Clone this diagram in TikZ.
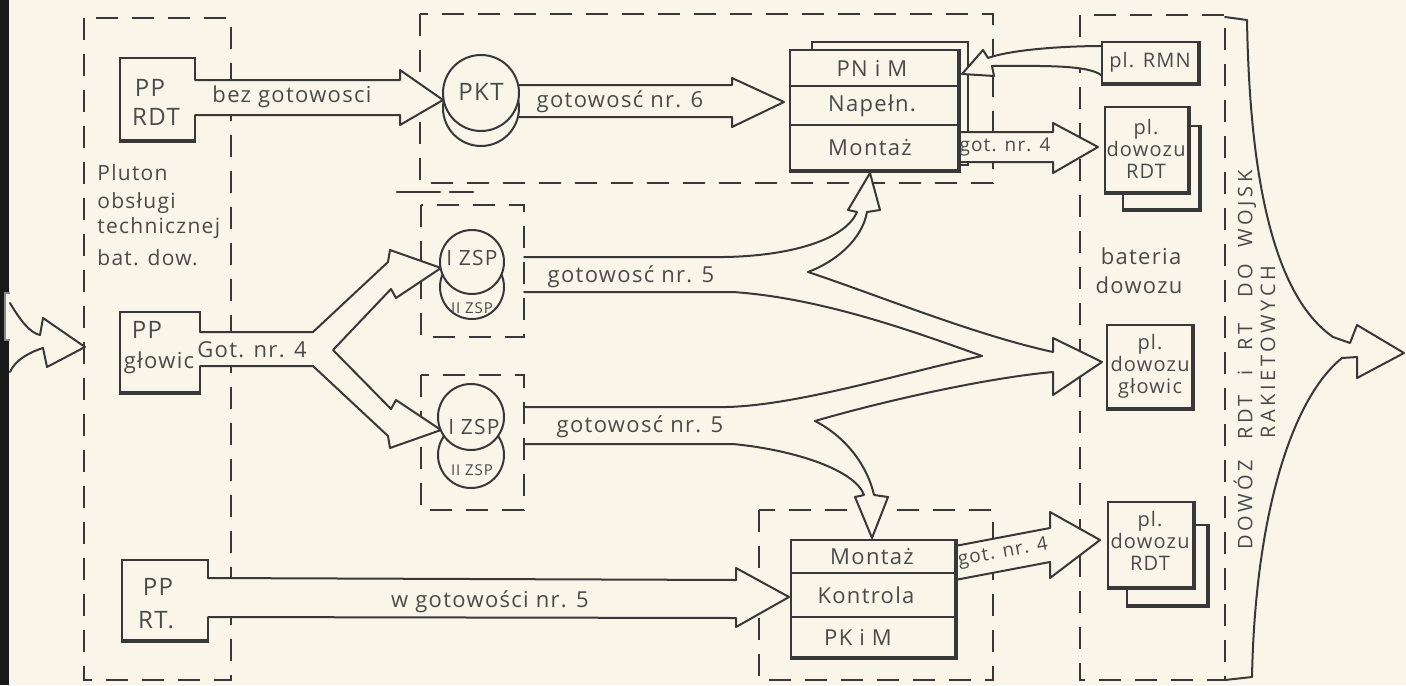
\documentclass[tikz,border=0pt]{standalone}
\usepackage{fontspec}
\newfontfamily\hand[LetterSpace=6]{Open Sans}
\newfontfamily\handcaps[LetterSpace=18]{Open Sans}
\definecolor{bgc}{HTML}{F9F6E9}
\definecolor{inkc}{HTML}{383838}
\definecolor{txtc}{HTML}{4A4A4A}
\tikzset{
  dbox/.style={draw=inkc, line width=1.1pt, dash pattern=on 11pt off 7pt},
  ln/.style={draw=inkc, line width=1pt, line join=round, line cap=round},
  thk/.style={draw=inkc, line width=1.8pt},
  lbl/.style={text=txtc, inner sep=0pt, font=\hand\fontsize{11}{13}\selectfont},
  boxtxt/.style={text=txtc, inner sep=0pt, align=center, font=\hand\fontsize{10}{11}\selectfont},
  bigtxt/.style={text=txtc, inner sep=0pt, font=\hand\fontsize{12}{14}\selectfont},
  ppbox/.style={draw=inkc, line width=1pt, fill=bgc, inner sep=0pt},
  ring/.style={circle, draw=inkc, line width=1pt, fill=bgc, inner sep=0pt},
  vtxt/.style={text=txtc, inner sep=0pt, rotate=90, font=\handcaps\fontsize{10}{12}\selectfont},
}
\begin{document}
\begin{tikzpicture}[x=0.5pt,y=-0.5pt]
\useasboundingbox (0,0) rectangle (1406,685);
\fill[bgc] (0,0) rectangle (1406,685);
\fill[black!90] (0,0) rectangle (9,685);
\fill[bgc] (5,293) rectangle (10,340);
\draw[inkc!60, line width=0.8pt] (10,293) -- (5,293) -- (5,340) -- (10,340);

% frames
\draw[dbox] (84,18) rectangle (231,680);
\draw[dbox] (420,14) rectangle (993,183);
\draw[dbox] (421,205) rectangle (524,337);
\draw[dbox] (421,375) rectangle (524,510);
\draw[dbox] (759,510) rectangle (993,680);
\draw[dbox] (1080,15) rectangle (1225,680);
\draw[ln, line width=1.1pt] (397,192) -- (440,192) (450,192) -- (473,192);

% left incoming arrow
\fill[bgc] (10,303) .. controls (20,320) and (30,333) .. (40,335) -- (43,318) -- (85,347) -- (47,367) -- (43,348) .. controls (30,352) and (15,360) .. (10,372) -- cycle;
\draw[ln] (10,303) .. controls (20,320) and (30,333) .. (40,335) -- (43,318) -- (85,347) -- (47,367) -- (43,348) .. controls (30,352) and (15,360) .. (10,372);

% PP boxes
\node[ppbox, minimum width=37.5pt, minimum height=41pt] (ppRDT) at (157.5,99) {};
\node[ppbox, minimum width=40pt, minimum height=40pt] (ppGl) at (160,352) {};
\node[ppbox, minimum width=43pt, minimum height=40pt] (ppRT) at (165,600) {};
\draw[thk] (ppRDT.south west) -- (ppRDT.south east);
\draw[thk] (ppGl.south west) -- (ppGl.south east);
\draw[thk] (ppRT.south west) -- (ppRT.south east);

% bez gotowosci
\fill[bgc] (189,80) -- (400,80) -- (400,70) -- (443,100) -- (400,125) -- (400,115) -- (189,115) -- cycle;
\draw[ln] (195,80) -- (400,80) -- (400,70) -- (443,100) -- (400,125) -- (400,115) -- (195,115);

% fork Got. nr. 4
\fill[bgc] (194,332) -- (313,332) -- (388,262) -- (390,250) -- (441,268) -- (396,298) -- (391,289) -- (333,350) -- (391,409) -- (396,400) -- (441,430) -- (390,448) -- (388,436) -- (313,366) -- (194,366) -- cycle;
\draw[ln] (200,332) -- (313,332) -- (388,262) -- (390,250) -- (441,268) -- (396,298) -- (391,289) -- (333,350) -- (391,409) -- (396,400) -- (441,430) -- (390,448) -- (388,436) -- (313,366) -- (200,366);

% PP RT arrow
\fill[bgc] (202,578) -- (736,580) -- (736,568) -- (789,597) -- (736,627) -- (736,618) -- (202,617) -- cycle;
\draw[ln] (208,578) -- (736,580) -- (736,568) -- (789,597) -- (736,627) -- (736,618) -- (208,617);

% PKT arrow and circles
\fill[bgc] (500,85) -- (732,85) -- (732,78) -- (784,102) -- (732,127) -- (732,117) -- (500,117) -- cycle;
\draw[ln] (500,85) -- (732,85) -- (732,78) -- (784,102) -- (732,127) -- (732,117) -- (500,117);
\node[ring, minimum size=38pt] (pkt2) at (481,108) {};
\node[ring, minimum size=38pt] (pkt) at (481,93) {};

% ZSP circles
\node[ring, minimum size=32pt] (zspA2) at (472,287) {};
\node[ring, minimum size=32pt] (zspA1) at (472,262) {};
\node[ring, minimum size=33pt] (zspB2) at (471,455) {};
\node[ring, minimum size=33pt] (zspB1) at (471,417) {};

% streams from ZSP
\draw[ln] (524,257) -- (724,257) .. controls (790,256) and (845,240) .. (857,212);
\fill[bgc] (857,212) -- (848,210) -- (870,173) -- (880,210) -- (867,212) -- cycle;
\draw[ln] (857,212) -- (848,210) -- (870,173) -- (880,210) -- (867,212);
\draw[ln] (867,212) .. controls (862,240) and (835,262) .. (808,272);
\draw[ln] (808,272) .. controls (880,296) and (975,335) .. (1053,352);
\draw[ln] (524,292) -- (733,292) .. controls (820,298) and (910,330) .. (982,356);
\draw[ln] (524,407) -- (727,407) .. controls (800,405) and (905,372) .. (982,356);
\draw[ln] (815,421) .. controls (880,402) and (985,378) .. (1053,372);
\draw[ln] (815,421) .. controls (848,438) and (868,468) .. (874,495);
\draw[ln] (524,444) -- (733,444) .. controls (795,450) and (855,470) .. (864,495);
\fill[bgc] (864,495) -- (855,497) -- (872,538) -- (888,497) -- (874,495) -- cycle;
\draw[ln] (864,495) -- (855,497) -- (872,538) -- (888,497) -- (874,495);
\fill[bgc] (1053,352) -- (1053,338) -- (1102,362) -- (1053,395) -- (1053,372) -- cycle;
\draw[ln] (1053,352) -- (1053,338) -- (1102,362) -- (1053,395) -- (1053,372);

% upper table
\node[ppbox, minimum width=78pt, minimum height=61.5pt] (tabUs) at (890,103.5) {};
\fill[bgc] (950,132) -- (1053,132) -- (1053,123) -- (1098,147) -- (1053,173) -- (1053,162) -- (950,162) -- cycle;
\node[ppbox, minimum width=84pt, minimum height=60pt] (tabU) at (874,110) {};
\draw[ln] (958,132) -- (1053,132) -- (1053,123) -- (1098,147) -- (1053,173) -- (1053,162) -- (958,162);
\draw[ln] (790,86) -- (958,86) (790,125) -- (958,125);
\draw[thk] (tabU.north east) -- (tabU.south east) -- (tabU.south west);

% lower table
\fill[bgc] (950,546) -- (1050,528) -- (1050,512) -- (1100,540) -- (1050,578) -- (1050,562) -- (950,580) -- cycle;
\node[ppbox, minimum width=82pt, minimum height=58.5pt] (tabL) at (873,598.5) {};
\draw[ln] (955,546) -- (1050,528) -- (1050,512) -- (1100,540) -- (1050,578) -- (1050,562) -- (955,580);
\draw[ln] (791,573) -- (955,573) (791,617) -- (955,617);
\draw[thk] (tabL.north east) -- (tabL.south east) -- (tabL.south west);

% RMN arrow and box
\fill[bgc] (1104,46) .. controls (1060,46) and (1010,50) .. (988,58) -- (983,50) -- (962,74) -- (994,76) -- (992,66) .. controls (1040,66) and (1095,64) .. (1104,78) -- cycle;
\draw[ln] (1104,46) .. controls (1060,46) and (1010,50) .. (988,58) -- (983,50) -- (962,74) -- (994,76) -- (992,66) .. controls (1040,66) and (1095,64) .. (1104,78);
\node[ppbox, minimum width=48pt, minimum height=20.5pt] (rmn) at (1150,62.5) {};
\draw[thk] (rmn.north east) -- (rmn.south east) -- (rmn.south west);

% bateria boxes
\node[ppbox, minimum width=38pt, minimum height=41.5pt] (dRDTas) at (1161,167.5) {};
\draw[thk] (dRDTas.north east) -- (dRDTas.south east) -- (dRDTas.south west);
\node[ppbox, minimum width=41.5pt, minimum height=42.5pt] (dRDTa) at (1146.5,149.5) {};
\draw[thk] (dRDTa.north east) -- (dRDTa.south east) -- (dRDTa.south west);
\node[ppbox, minimum width=42.5pt, minimum height=41.5pt] (dGl) at (1149.5,366.5) {};
\draw[thk] (dGl.north east) -- (dGl.south east) -- (dGl.south west);
\node[ppbox, minimum width=40pt, minimum height=40pt] (dRDTbs) at (1167,565) {};
\draw[thk] (dRDTbs.north east) -- (dRDTbs.south east) -- (dRDTbs.south west);
\node[ppbox, minimum width=42.5pt, minimum height=42.5pt] (dRDTb) at (1150.5,544.5) {};
\draw[thk] (dRDTb.north east) -- (dRDTb.south east) -- (dRDTb.south west);

% big outgoing arrow
\draw[ln] (1225,17) -- (1247,20) .. controls (1250,200) and (1280,300) .. (1333,337) -- (1350,343) -- (1357,325) -- (1404,353) -- (1357,378) -- (1357,357) -- (1342,358) .. controls (1290,400) and (1255,520) .. (1252,677) -- (1225,680);

% labels
\node[bigtxt] (lppRDT1) at (150,88) {PP};
\node[bigtxt] (lppRDT2) at (156,117) {RDT};
\node[bigtxt] (lppGl1) at (147,330) {PP};
\node[lbl] (lppGl2) at (159,363) {głowic};
\node[bigtxt] (lppRT1) at (158,587) {PP};
\node[bigtxt] (lppRT2) at (156,620) {RT.};
\node[lbl, font=\hand\fontsize{10.5}{12}\selectfont, anchor=west] (lpl1) at (97,173) {Pluton};
\node[lbl, font=\hand\fontsize{10.5}{12}\selectfont, anchor=west] (lpl2) at (97,203) {obsługi};
\node[lbl, font=\hand\fontsize{10.5}{12}\selectfont, anchor=west] (lpl3) at (97,228) {technicznej};
\node[lbl, font=\hand\fontsize{10.5}{12}\selectfont, anchor=west] (lpl4) at (97,258) {bat. dow.};

\node[lbl] (t1) at (292,97) {bez gotowosci};
\node[lbl] (t2) at (620,102) {gotowosć nr. 6};
\node[lbl] (t3) at (631,277) {gotowosć nr. 5};
\node[lbl] (t4) at (640,427) {gotowosć nr. 5};
\node[lbl] (t5) at (490,602) {w gotowości nr. 5};
\node[lbl] (t6) at (252,350) {Got. nr. 4};
\node[lbl, font=\hand\fontsize{9.5}{11}\selectfont] (t7) at (1005,147) {got. nr. 4};
\node[lbl, font=\hand\fontsize{9.5}{11}\selectfont, rotate=10] (t8) at (1003,553) {got. nr. 4};

\node[bigtxt] (lpkt) at (481,92) {PKT};
\node[lbl, font=\hand\fontsize{10.5}{12}\selectfont] (lzA1) at (472,258) {I ZSP};
\node[lbl, font=\hand\fontsize{7.5}{9}\selectfont] (lzA2) at (472,308) {II ZSP};
\node[lbl, font=\hand\fontsize{10.5}{12}\selectfont] (lzB1) at (474,427) {I ZSP};
\node[lbl, font=\hand\fontsize{7.5}{9}\selectfont] (lzB2) at (472,470) {II ZSP};

\node[lbl] (lu1) at (872,68) {PN i M};
\node[lbl] (lu2) at (872,106) {Napełn.};
\node[lbl] (lu3) at (870,148) {Montaż};
\node[lbl] (ll1) at (872,557) {Montaż};
\node[lbl] (ll2) at (866,595) {Kontrola};
\node[lbl] (ll3) at (858,637) {PK i M};

\node[boxtxt] (lrmn) at (1150,62) {pl. RMN};
\node[boxtxt] (ldRDTa) at (1146,149) {pl.\\dowozu\\RDT};
\node[boxtxt] (ldGl) at (1150,366) {pl.\\dowozu\\głowic};
\node[boxtxt] (ldRDTb) at (1150,541) {pl.\\dowozu\\RDT};
\node[lbl] (lbat1) at (1141,256) {bateria};
\node[lbl] (lbat2) at (1139,285) {dowozu};

\node[vtxt] (lv1) at (1245,360) {DOWÓZ\hspace{10pt}RDT\hspace{10pt}i\hspace{10pt}RT\hspace{13pt}DO\hspace{8pt}WOJSK};
\node[vtxt] (lv2) at (1268,352) {RAKIETOWYCH};
\end{tikzpicture}
\end{document}
